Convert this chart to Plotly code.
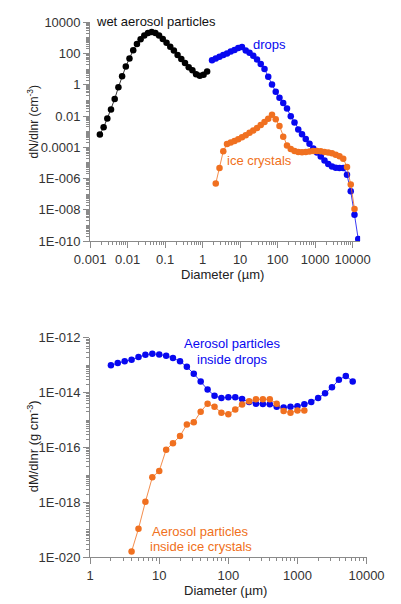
import plotly.graph_objects as go

# ---------------- upper panel: number size distributions ----------------
# diameter in µm, dN/dlnr in cm^-3
wet_d = [0.00182, 0.00229, 0.00287, 0.0036, 0.00452, 0.00567, 0.00712, 0.00894,
         0.0112, 0.0141, 0.0177, 0.0222, 0.0278, 0.0349, 0.0438, 0.055, 0.069,
         0.0866, 0.109, 0.137, 0.171, 0.215, 0.27, 0.339, 0.425, 0.534, 0.67,
         0.841, 1.06, 1.32]
wet_n = [6.6e-4, 1.9e-3, 7.0e-3, 0.0267, 0.124, 0.70, 3.5, 14.9, 49, 164, 406,
         832, 1416, 2057, 2378, 2057, 1416, 869, 489, 275, 155, 80, 45, 25.3,
         13.4, 8.4, 4.7, 3.8, 4.4, 7.2]

drop_d = [1.78, 2.24, 2.82, 3.55, 4.47, 5.62, 7.08, 8.91, 11.2, 14.1, 17.8, 22.4,
          28.2, 35.5, 44.7, 56.2, 70.8, 89.1, 112, 141, 178, 224, 282, 355, 447,
          562, 708, 891, 1122, 1413, 1778, 2239, 2818, 3548, 4467, 5623, 7079,
          8913, 11220, 14125]
drop_n = [37.8, 48.3, 62.6, 80.0, 102, 134, 171, 228, 264, 159, 111, 72.3, 41.9,
          21.3, 10.4, 3.29, 1.04, 0.354, 0.150, 0.0678, 0.0308, 0.00975, 0.00383,
          0.0014, 6.8e-4, 3.4e-4, 1.67e-4, 8.5e-5, 4.6e-5, 2.6e-5, 1.45e-5,
          8.5e-6, 5.9e-6, 4.9e-6, 4.8e-6, 4.8e-6, 1.75e-6, 1.52e-7, 4.8e-9,
          1.33e-10]

ice_d = [2.24, 2.82, 3.55, 4.47, 5.62, 7.08, 8.91, 11.2, 14.1, 17.8, 22.4, 28.2,
         35.5, 44.7, 56.2, 70.8, 89.1, 112, 141, 178, 224, 282, 355, 447, 562,
         708, 891, 1122, 1413, 1778, 2239, 2818, 3548, 4467, 5623, 7079, 8913,
         11220]
ice_n = [4.8e-7, 4.8e-6, 5.5e-5, 1.62e-4, 2.0e-4, 2.5e-4, 3.3e-4, 4.4e-4, 5.9e-4,
         8.5e-4, 1.21e-3, 1.74e-3, 2.67e-3, 4.1e-3, 6.8e-3, 0.0121, 6.3e-3,
         2.3e-3, 4.8e-4, 1.31e-4, 7.9e-5, 5.9e-5, 5.0e-5, 4.8e-5, 5.0e-5, 5.3e-5,
         5.75e-5, 5.75e-5, 5.5e-5, 5.0e-5, 4.6e-5, 4.1e-5, 3.3e-5, 2.7e-5,
         1.87e-5, 5.5e-6, 4.2e-7, 1.14e-8]

# ---------------- lower panel: aerosol mass inside hydrometeors ----------------
# diameter in µm, dM/dlnr in g cm^-3
in_drop_d = [2.0, 2.51, 3.16, 3.98, 5.01, 6.31, 7.94, 10, 12.6, 15.8, 20, 25.1,
             31.6, 39.8, 50.1, 63.1, 79.4, 100, 126, 158, 200, 251, 316, 398,
             501, 631, 794, 1000, 1259, 1585, 1995, 2512, 3162, 3981, 5012, 6310]
in_drop_m = [1.01e-13, 1.22e-13, 1.40e-13, 1.60e-13, 2.0e-13, 2.41e-13, 2.61e-13,
             2.49e-13, 2.22e-13, 1.84e-13, 1.40e-13, 8.8e-14, 4.95e-14, 2.57e-14,
             1.31e-14, 7.7e-15, 6.4e-15, 6.8e-15, 6.8e-15, 5.9e-15, 4.6e-15,
             4.0e-15, 3.9e-15, 3.8e-15, 3.06e-15, 2.9e-15, 3.06e-15, 3.24e-15,
             3.8e-15, 4.6e-15, 6.4e-15, 9.6e-15, 1.57e-14, 2.96e-14, 4.1e-14,
             2.57e-14]

in_ice_d = [3.98, 5.01, 6.31, 7.94, 10, 12.6, 15.8, 20, 25.1, 31.6, 39.8, 50.1,
            63.1, 79.4, 100, 126, 158, 200, 251, 316, 398, 501, 631, 794, 1000,
            1259]
in_ice_m = [1.63e-20, 1.1e-19, 1.06e-18, 8.2e-18, 1.41e-17, 8.4e-17, 1.45e-16,
            2.63e-16, 7.0e-16, 8.3e-16, 2.03e-15, 4.0e-15, 3.06e-15, 1.87e-15,
            1.63e-15, 2.45e-15, 3.7e-15, 4.9e-15, 5.75e-15, 5.75e-15, 5.75e-15,
            4.0e-15, 2.15e-15, 1.87e-15, 2.26e-15, 2.26e-15]

# axis tick labels
top_x_vals = [0.001, 0.01, 0.1, 1, 10, 100, 1000, 10000]
top_x_text = ["0.001", "0.01", "0.1", "1", "10", "100", "1000", "10000"]
top_y_vals = [1e4, 1e2, 1, 1e-2, 1e-4, 1e-6, 1e-8, 1e-10]
top_y_text = ["10000", "100", "1", "0.01", "0.0001", "1E-006", "1E-008", "1E-010"]
bot_x_vals = [1, 10, 100, 1000, 10000]
bot_x_text = ["1", "10", "100", "1000", "10000"]
bot_y_vals = [1e-12, 1e-14, 1e-16, 1e-18, 1e-20]
bot_y_text = ["1E-012", "1E-014", "1E-016", "1E-018", "1E-020"]

BLACK = "#000000"
BLUE = "#0808f0"
ORANGE = "#f07020"
FONT = "Liberation Sans, Arial, sans-serif"
AXIS = "#8a8a8a"
W, H = 401, 604


def minor_vals(e0, e1):
    return [m * 10.0 ** e for e in range(e0, e1) for m in range(1, 10)]


def series(x, y, color, xa, ya):
    return go.Scatter(x=x, y=y, mode="lines+markers", xaxis=xa, yaxis=ya,
                      line=dict(color=color, width=0.8),
                      marker=dict(color=color, size=6.5, line=dict(width=0)),
                      showlegend=False, hoverinfo="skip")


fig = go.Figure()
fig.add_trace(series(wet_d, wet_n, BLACK, "x", "y"))
fig.add_trace(series(drop_d, drop_n, BLUE, "x", "y"))
fig.add_trace(series(ice_d, ice_n, ORANGE, "x", "y"))
fig.add_trace(series(in_drop_d, in_drop_m, BLUE, "x2", "y2"))
fig.add_trace(series(in_ice_d, in_ice_m, ORANGE, "x2", "y2"))


def xdom(left, right):
    return [left / W, right / W]


def ydom(top, bottom):
    return [1 - bottom / H, 1 - top / H]


common = dict(type="log", showgrid=False, zeroline=False, showline=True,
              linecolor=AXIS, linewidth=1, ticks="outside", ticklen=6,
              tickcolor=AXIS, tickfont=dict(family=FONT, size=13, color="#333"),
              tickmode="array")

fig.update_layout(
    width=W, height=H, margin=dict(l=0, r=0, t=0, b=0),
    paper_bgcolor="white", plot_bgcolor="white",
    xaxis=dict(common, domain=xdom(81, 376), range=[-3, 4.2], anchor="y",
               tickvals=top_x_vals, ticktext=top_x_text,
               minor=dict(tickvals=minor_vals(-3, 5), ticks="outside", ticklen=3,
                          tickcolor=AXIS)),
    yaxis=dict(common, domain=ydom(15.7, 240), range=[-10, 4], anchor="x",
               tickvals=top_y_vals, ticktext=top_y_text,
               minor=dict(tickvals=minor_vals(-10, 4), ticks="outside", ticklen=3,
                          tickcolor=AXIS)),
    xaxis2=dict(common, domain=xdom(81, 383), range=[0, 4], anchor="y2",
                tickvals=bot_x_vals, ticktext=bot_x_text,
                minor=dict(tickvals=minor_vals(0, 4), ticks="outside", ticklen=3,
                           tickcolor=AXIS)),
    yaxis2=dict(common, domain=ydom(339.3, 564.3), range=[-20, -12], anchor="x2",
                tickvals=bot_y_vals, ticktext=bot_y_text,
                minor=dict(tickvals=minor_vals(-20, -12), ticks="outside",
                           ticklen=3, tickcolor=AXIS)),
)


def px(xp, yp):
    return dict(xref="paper", yref="paper", x=xp / W, y=1 - yp / H)


def label(text, xp, yp, color, size=13, angle=0, xanchor="center"):
    fig.add_annotation(text=text, showarrow=False, textangle=angle,
                       xanchor=xanchor, yanchor="middle", borderpad=0,
                       font=dict(family=FONT, size=size, color=color), **px(xp, yp))


# series labels
label("wet aerosol particles", 86, 15, "#111", xanchor="left")
label("drops", 258, 38.5, BLUE, xanchor="left")
label("ice crystals", 229, 157, ORANGE, xanchor="left")
label("Aerosol particles", 237, 345, BLUE)
label("inside drops", 237, 361, BLUE)
label("Aerosol particles", 202, 537.7, ORANGE)
label("inside ice crystals", 202, 553.3, ORANGE)

# axis titles
label("Diameter (µm)", 226, 274, "#222")
label("Diameter (µm)", 229, 598, "#222")
label("dN/dlnr (cm<sup>-3</sup>)", 19, 118, "#222", size=12, angle=-90)
label("dM/dlnr (g cm<sup>-3</sup>)", 18, 450, "#222", size=13, angle=-90)

fig.write_html("out.html")
